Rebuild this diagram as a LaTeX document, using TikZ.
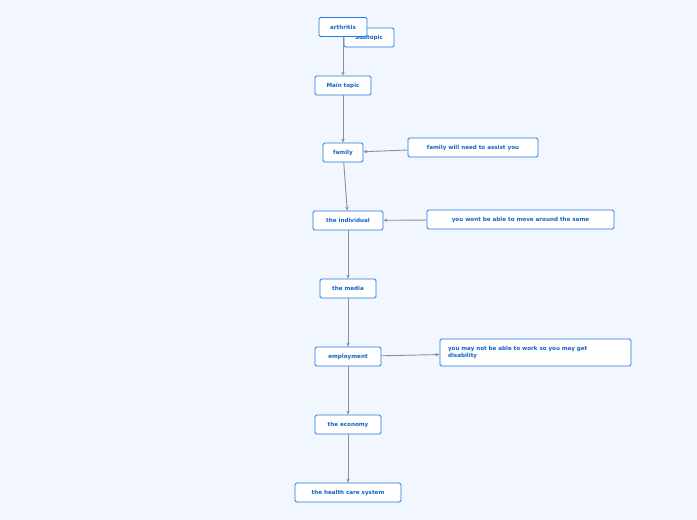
\documentclass[tikz,border=0pt]{standalone}
\usepackage{fontspec}
\setmainfont{DejaVu Sans}
\usetikzlibrary{arrows.meta}
\definecolor{bg}{HTML}{F2F6FE}
\definecolor{boxline}{HTML}{1E7BE0}
\definecolor{boxtext}{HTML}{1463C4}
\definecolor{link}{HTML}{8C8E98}
\begin{document}
\begin{tikzpicture}[x=1pt,y=-1pt]
      \tikzstyle{topic}=[draw=boxline,fill=white,text=boxtext,font=\bfseries\fontsize{5.6}{6.5}\selectfont,rounded corners=1.5pt,minimum height=19pt,inner xsep=3pt,inner sep=0pt,line width=0.8pt]
      \tikzstyle{link}=[draw=link,line width=0.9pt,-{Stealth[length=4pt,width=3.5pt]}]

      \fill[bg] (0,0) rectangle (697,520);
      \useasboundingbox (0,0) rectangle (697,520);

      \node (subtopic) [topic,minimum width=50pt] at (369,37.5) {Subtopic};
      \node (arthritis) [topic,minimum width=48pt] at (343,27) {arthritis};
      \node (main) [topic,minimum width=56pt] at (343,85.5) {Main topic};
      \node (family) [topic,minimum width=40pt] at (343,152.5) {family};
      \node (assist) [topic,minimum width=130pt] at (473,147.5) {family will need to assist you};
      \node (individual) [topic,minimum width=70pt] at (348,220.5) {the individual};
      \node (move) [topic,minimum width=187pt] at (520.5,219.5) {you wont be able to move around the same};
      \node (media) [topic,minimum width=56pt] at (348,288.5) {the media};
      \node (employment) [topic,minimum width=66pt] at (348,356.5) {employment};
      \node (work) [topic,minimum width=191pt,minimum height=27pt,inner xsep=8pt,align=left,text width=175pt] at (535.5,352.5) {you may not be able to work so you may get\\disability};
      \node (economy) [topic,minimum width=66pt] at (348,424.5) {the economy};
      \node (health) [topic,minimum width=106pt] at (348,492.5) {the health care system};

      \draw[link] (arthritis) -- (main);
      \draw[link] (main) -- (family);
      \draw[link] (family) -- (individual);
      \draw[link] (individual) -- (media);
      \draw[link] (media) -- (employment);
      \draw[link] (employment) -- (economy);
      \draw[link] (economy) -- (health);
      \draw[link] (assist) -- (family);
      \draw[link] (move) -- (individual);
      \draw[link] (employment) -- (work);
    \end{tikzpicture}
\end{document}
